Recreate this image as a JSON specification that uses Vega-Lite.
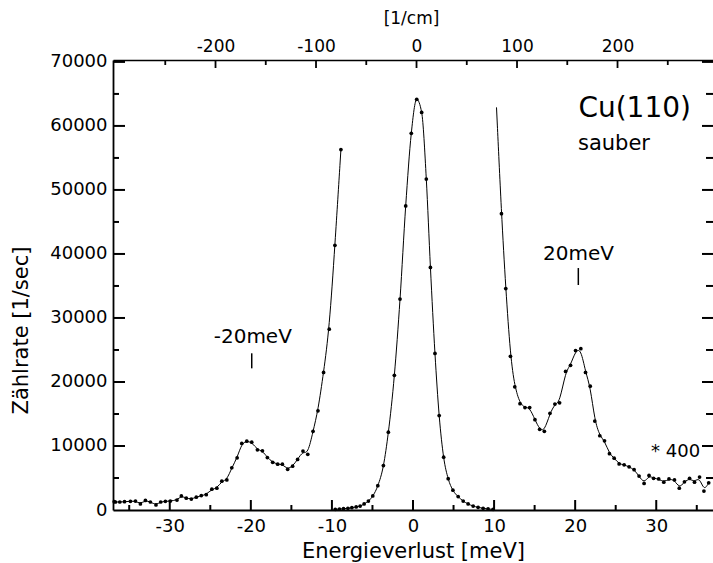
{
  "$schema": "https://vega.github.io/schema/vega-lite/v6.json",
  "width": 600,
  "height": 450,
  "autosize": {"type": "none"},
  "padding": {"left": 113, "top": 60, "right": 0, "bottom": 53},
  "background": "white",
  "config": {
    "view": {"stroke": null},
    "font": "DejaVu Sans",
    "locale": {"number": {"decimal": ".", "thousands": "", "grouping": [3], "currency": ["", ""], "minus": "-"}},
    "axis": {"grid": false, "domainColor": "black", "labelColor": "black", "titleColor": "black", "labelFont": "DejaVu Sans", "titleFont": "DejaVu Sans", "titleFontWeight": "normal"}
  },
  "datasets": {
    "curve": [
      {"seg": "L", "x": -36.85, "y": 1300},
      {"seg": "L", "x": -36.69, "y": 1250},
      {"seg": "L", "x": -36.16, "y": 1250},
      {"seg": "L", "x": -35.58, "y": 1300},
      {"seg": "L", "x": -34.85, "y": 1350},
      {"seg": "L", "x": -34.23, "y": 1400},
      {"seg": "L", "x": -33.62, "y": 950},
      {"seg": "L", "x": -33.0, "y": 1500},
      {"seg": "L", "x": -32.39, "y": 1250},
      {"seg": "L", "x": -31.7, "y": 800},
      {"seg": "L", "x": -31.12, "y": 1250},
      {"seg": "L", "x": -30.54, "y": 1350},
      {"seg": "L", "x": -29.93, "y": 1400},
      {"seg": "L", "x": -29.11, "y": 1550},
      {"seg": "L", "x": -28.57, "y": 2200},
      {"seg": "L", "x": -27.96, "y": 1850},
      {"seg": "L", "x": -27.34, "y": 1700},
      {"seg": "L", "x": -26.73, "y": 2000},
      {"seg": "L", "x": -26.11, "y": 2250},
      {"seg": "L", "x": -25.5, "y": 2400},
      {"seg": "L", "x": -24.81, "y": 3250},
      {"seg": "L", "x": -24.19, "y": 3400},
      {"seg": "L", "x": -23.58, "y": 4500},
      {"seg": "L", "x": -22.96, "y": 4700},
      {"seg": "L", "x": -22.35, "y": 6600},
      {"seg": "L", "x": -21.69, "y": 8150},
      {"seg": "L", "x": -21.12, "y": 10400},
      {"seg": "L", "x": -20.5, "y": 10750},
      {"seg": "L", "x": -19.89, "y": 10600},
      {"seg": "L", "x": -19.19, "y": 9400},
      {"seg": "L", "x": -18.57, "y": 9250},
      {"seg": "L", "x": -17.96, "y": 8200},
      {"seg": "L", "x": -17.31, "y": 7450},
      {"seg": "L", "x": -16.69, "y": 7150},
      {"seg": "L", "x": -16.11, "y": 7150},
      {"seg": "L", "x": -15.46, "y": 6350},
      {"seg": "L", "x": -14.85, "y": 6850},
      {"seg": "L", "x": -14.23, "y": 7900},
      {"seg": "L", "x": -13.57, "y": 9200},
      {"seg": "L", "x": -12.98, "y": 8700},
      {"seg": "L", "x": -12.33, "y": 12300},
      {"seg": "L", "x": -11.72, "y": 15500},
      {"seg": "L", "x": -11.03, "y": 21500},
      {"seg": "L", "x": -10.33, "y": 28250},
      {"seg": "L", "x": -9.63, "y": 41350},
      {"seg": "L", "x": -8.89, "y": 56300},
      {"seg": "C", "x": -9.59, "y": 100},
      {"seg": "C", "x": -9.07, "y": 150},
      {"seg": "C", "x": -8.57, "y": 200},
      {"seg": "C", "x": -8.03, "y": 270},
      {"seg": "C", "x": -7.54, "y": 360},
      {"seg": "C", "x": -7.01, "y": 470},
      {"seg": "C", "x": -6.52, "y": 620},
      {"seg": "C", "x": -6.03, "y": 940},
      {"seg": "C", "x": -5.5, "y": 1400},
      {"seg": "C", "x": -4.96, "y": 2200},
      {"seg": "C", "x": -4.34, "y": 3800},
      {"seg": "C", "x": -3.65, "y": 6950},
      {"seg": "C", "x": -3.04, "y": 12150},
      {"seg": "C", "x": -2.3, "y": 21050},
      {"seg": "C", "x": -1.6, "y": 32950},
      {"seg": "C", "x": -0.9, "y": 47500},
      {"seg": "C", "x": -0.21, "y": 58850},
      {"seg": "C", "x": 0.46, "y": 64150},
      {"seg": "C", "x": 1.07, "y": 62100},
      {"seg": "C", "x": 1.64, "y": 51700},
      {"seg": "C", "x": 2.15, "y": 37900},
      {"seg": "C", "x": 2.71, "y": 24450},
      {"seg": "C", "x": 3.23, "y": 14750},
      {"seg": "C", "x": 3.78, "y": 8250},
      {"seg": "C", "x": 4.34, "y": 4900},
      {"seg": "C", "x": 4.92, "y": 3100},
      {"seg": "C", "x": 5.57, "y": 2100},
      {"seg": "C", "x": 6.19, "y": 1400},
      {"seg": "C", "x": 6.8, "y": 950},
      {"seg": "C", "x": 7.42, "y": 620},
      {"seg": "C", "x": 8.03, "y": 420},
      {"seg": "C", "x": 8.65, "y": 270},
      {"seg": "C", "x": 9.26, "y": 160},
      {"seg": "C", "x": 9.88, "y": 100},
      {"seg": "R", "x": 10.3, "y": 62900, "nodot": true},
      {"seg": "R", "x": 10.91, "y": 46300},
      {"seg": "R", "x": 11.44, "y": 34600},
      {"seg": "R", "x": 12.02, "y": 24000},
      {"seg": "R", "x": 12.55, "y": 19250},
      {"seg": "R", "x": 13.2, "y": 16600},
      {"seg": "R", "x": 13.81, "y": 16000},
      {"seg": "R", "x": 14.39, "y": 16000},
      {"seg": "R", "x": 15.04, "y": 14100},
      {"seg": "R", "x": 15.62, "y": 12600},
      {"seg": "R", "x": 16.2, "y": 12300},
      {"seg": "R", "x": 16.89, "y": 15100},
      {"seg": "R", "x": 17.5, "y": 16550},
      {"seg": "R", "x": 18.08, "y": 16750},
      {"seg": "R", "x": 18.82, "y": 21650},
      {"seg": "R", "x": 19.43, "y": 22600},
      {"seg": "R", "x": 20.05, "y": 24900},
      {"seg": "R", "x": 20.7, "y": 25200},
      {"seg": "R", "x": 21.28, "y": 21500},
      {"seg": "R", "x": 21.86, "y": 19350},
      {"seg": "R", "x": 22.42, "y": 13900},
      {"seg": "R", "x": 23.04, "y": 11600},
      {"seg": "R", "x": 23.62, "y": 10800},
      {"seg": "R", "x": 24.23, "y": 8800},
      {"seg": "R", "x": 24.81, "y": 8100},
      {"seg": "R", "x": 25.42, "y": 7200},
      {"seg": "R", "x": 26.04, "y": 7050},
      {"seg": "R", "x": 26.65, "y": 6750},
      {"seg": "R", "x": 27.27, "y": 6300},
      {"seg": "R", "x": 27.88, "y": 5300},
      {"seg": "R", "x": 28.5, "y": 4150},
      {"seg": "R", "x": 29.11, "y": 5400},
      {"seg": "R", "x": 29.67, "y": 4950},
      {"seg": "R", "x": 30.3, "y": 4850},
      {"seg": "R", "x": 30.93, "y": 4350},
      {"seg": "R", "x": 31.57, "y": 4850},
      {"seg": "R", "x": 32.25, "y": 4700},
      {"seg": "R", "x": 32.84, "y": 3400},
      {"seg": "R", "x": 33.48, "y": 4400},
      {"seg": "R", "x": 34.11, "y": 4950},
      {"seg": "R", "x": 34.72, "y": 4350},
      {"seg": "R", "x": 35.34, "y": 5150},
      {"seg": "R", "x": 35.88, "y": 2950},
      {"seg": "R", "x": 36.47, "y": 4250}
    ],
    "notes": [
      {"kind": "title", "x": 27.34, "y": 61400, "text": "Cu(110)"},
      {"kind": "sub", "x": 24.79, "y": 56230, "text": "sauber"},
      {"kind": "peak", "x": 20.41, "y": 39050, "text": "20meV"},
      {"kind": "peak", "x": -19.76, "y": 26130, "text": "-20meV"},
      {"kind": "scale", "x": 32.38, "y": 8330, "text": "* 400"}
    ],
    "markers": [
      {"x": 20.39, "y": 37800, "y2": 35150},
      {"x": -19.89, "y": 24480, "y2": 22130}
    ],
    "top": [{"cm": -200}, {"cm": 200}],
    "xticks": [
      {"v": -35, "kind": "minor"}, {"v": -30, "kind": "major"}, {"v": -25, "kind": "minor"}, {"v": -20, "kind": "major"},
      {"v": -15, "kind": "minor"}, {"v": -10, "kind": "major"}, {"v": -5, "kind": "minor"}, {"v": 0, "kind": "major"},
      {"v": 5, "kind": "minor"}, {"v": 10, "kind": "major"}, {"v": 15, "kind": "minor"}, {"v": 20, "kind": "major"},
      {"v": 25, "kind": "minor"}, {"v": 30, "kind": "major"}, {"v": 35, "kind": "minor"}
    ],
    "yticks": [
      {"v": 5000, "kind": "minor"}, {"v": 10000, "kind": "major"}, {"v": 15000, "kind": "minor"}, {"v": 20000, "kind": "major"},
      {"v": 25000, "kind": "minor"}, {"v": 30000, "kind": "major"}, {"v": 35000, "kind": "minor"}, {"v": 40000, "kind": "major"},
      {"v": 45000, "kind": "minor"}, {"v": 50000, "kind": "major"}, {"v": 55000, "kind": "minor"}, {"v": 60000, "kind": "major"},
      {"v": 65000, "kind": "minor"}, {"v": 70000, "kind": "major"}
    ],
    "cmticks": [
      {"v": -250, "kind": "minor"}, {"v": -200, "kind": "major"}, {"v": -150, "kind": "minor"}, {"v": -100, "kind": "major"},
      {"v": -50, "kind": "minor"}, {"v": 0, "kind": "major"}, {"v": 50, "kind": "minor"}, {"v": 100, "kind": "major"},
      {"v": 150, "kind": "minor"}, {"v": 200, "kind": "major"}, {"v": 250, "kind": "minor"}
    ]
  },
  "resolve": {"scale": {"x": "independent", "y": "independent"}},
  "layer": [
    {
      "data": {"name": "curve"},
      "transform": [{"filter": "datum.seg !== 'C'"}],
      "mark": {"type": "line", "interpolate": "basis", "color": "black", "strokeWidth": 1},
      "encoding": {
        "x": {"field": "x", "type": "quantitative", "scale": {"domain": [-37, 37], "nice": false, "zero": false},
          "axis": {"orient": "bottom", "values": [-30, -20, -10, 0, 10, 20, 30], "format": "d", "ticks": false, "domainWidth": 1.8, "labelPadding": 7, "labelFontSize": 18, "title": "Energieverlust [meV]", "titleFontSize": 21, "titleX": 300, "titleY": 47, "titleAlign": "center", "titleBaseline": "alphabetic"}},
        "y": {"field": "y", "type": "quantitative", "scale": {"domain": [0, 70300], "nice": false, "zero": false},
          "axis": {"orient": "left", "values": [0, 10000, 20000, 30000, 40000, 50000, 60000, 70000], "format": "d", "ticks": false, "domainWidth": 1.8, "labelPadding": 6, "labelFontSize": 18, "title": "Zählrate [1/sec]", "titleFontSize": 21, "titleAngle": -90, "titleX": -92, "titleY": 270, "titleAlign": "center", "titleBaseline": "middle"}},
        "detail": {"field": "seg"}
      }
    },
    {
      "data": {"name": "top"},
      "mark": {"type": "point", "opacity": 0},
      "encoding": {
        "x": {"field": "cm", "type": "quantitative", "scale": {"domain": [-302, 295], "nice": false, "zero": false},
          "axis": {"orient": "top", "values": [-200, -100, 0, 100, 200], "format": "d", "ticks": false, "domainWidth": 1.3, "labelPadding": 5, "labelFontSize": 17, "title": "[1/cm]", "titleFontSize": 17, "titleX": 298, "titleY": -42, "titleAlign": "center", "titleBaseline": "middle"}}
      }
    },
    {
      "data": {"name": "xticks"},
      "transform": [{"filter": "datum.kind === 'major'"}],
      "mark": {"type": "rule", "color": "black", "strokeWidth": 2},
      "encoding": {
        "x": {"field": "v", "type": "quantitative", "scale": {"domain": [-37, 37], "nice": false, "zero": false}, "axis": null},
        "y": {"datum": 0, "type": "quantitative", "scale": {"domain": [0, 70300], "nice": false, "zero": false}, "axis": null},
        "y2": {"datum": 1560}
      }
    },
    {
      "data": {"name": "xticks"},
      "transform": [{"filter": "datum.kind === 'minor'"}],
      "mark": {"type": "rule", "color": "black", "strokeWidth": 2},
      "encoding": {
        "x": {"field": "v", "type": "quantitative", "scale": {"domain": [-37, 37], "nice": false, "zero": false}, "axis": null},
        "y": {"datum": 0, "type": "quantitative", "scale": {"domain": [0, 70300], "nice": false, "zero": false}, "axis": null},
        "y2": {"datum": 780}
      }
    },
    {
      "data": {"name": "yticks"},
      "transform": [{"filter": "datum.kind === 'major'"}],
      "mark": {"type": "rule", "color": "black", "strokeWidth": 2},
      "encoding": {
        "y": {"field": "v", "type": "quantitative", "scale": {"domain": [0, 70300], "nice": false, "zero": false}, "axis": null},
        "x": {"datum": -37, "type": "quantitative", "scale": {"domain": [-37, 37], "nice": false, "zero": false}, "axis": null},
        "x2": {"datum": -35.52}
      }
    },
    {
      "data": {"name": "yticks"},
      "transform": [{"filter": "datum.kind === 'minor'"}],
      "mark": {"type": "rule", "color": "black", "strokeWidth": 2},
      "encoding": {
        "y": {"field": "v", "type": "quantitative", "scale": {"domain": [0, 70300], "nice": false, "zero": false}, "axis": null},
        "x": {"datum": -37, "type": "quantitative", "scale": {"domain": [-37, 37], "nice": false, "zero": false}, "axis": null},
        "x2": {"datum": -36.26}
      }
    },
    {
      "data": {"name": "yticks"},
      "transform": [{"filter": "datum.kind === 'major'"}],
      "mark": {"type": "rule", "color": "black", "strokeWidth": 2},
      "encoding": {
        "y": {"field": "v", "type": "quantitative", "scale": {"domain": [0, 70300], "nice": false, "zero": false}, "axis": null},
        "x": {"datum": 37, "type": "quantitative", "scale": {"domain": [-37, 37], "nice": false, "zero": false}, "axis": null},
        "x2": {"datum": 35.64}
      }
    },
    {
      "data": {"name": "yticks"},
      "transform": [{"filter": "datum.kind === 'minor'"}],
      "mark": {"type": "rule", "color": "black", "strokeWidth": 2},
      "encoding": {
        "y": {"field": "v", "type": "quantitative", "scale": {"domain": [0, 70300], "nice": false, "zero": false}, "axis": null},
        "x": {"datum": 37, "type": "quantitative", "scale": {"domain": [-37, 37], "nice": false, "zero": false}, "axis": null},
        "x2": {"datum": 36.14}
      }
    },
    {
      "data": {"name": "cmticks"},
      "transform": [{"filter": "datum.kind === 'major'"}],
      "mark": {"type": "rule", "color": "black", "strokeWidth": 1.8},
      "encoding": {
        "x": {"field": "v", "type": "quantitative", "scale": {"domain": [-302, 295], "nice": false, "zero": false}, "axis": null},
        "y": {"datum": 70300, "type": "quantitative", "scale": {"domain": [0, 70300], "nice": false, "zero": false}, "axis": null},
        "y2": {"datum": 69050}
      }
    },
    {
      "data": {"name": "cmticks"},
      "transform": [{"filter": "datum.kind === 'minor'"}],
      "mark": {"type": "rule", "color": "black", "strokeWidth": 1.8},
      "encoding": {
        "x": {"field": "v", "type": "quantitative", "scale": {"domain": [-302, 295], "nice": false, "zero": false}, "axis": null},
        "y": {"datum": 70300, "type": "quantitative", "scale": {"domain": [0, 70300], "nice": false, "zero": false}, "axis": null},
        "y2": {"datum": 69520}
      }
    },
    {
      "data": {"name": "curve"},
      "transform": [{"filter": "datum.seg === 'C'"}],
      "mark": {"type": "line", "interpolate": "monotone", "color": "black", "strokeWidth": 1},
      "encoding": {
        "x": {"field": "x", "type": "quantitative", "scale": {"domain": [-37, 37], "nice": false, "zero": false}, "axis": null},
        "y": {"field": "y", "type": "quantitative", "scale": {"domain": [0, 70300], "nice": false, "zero": false}, "axis": null}
      }
    },
    {
      "data": {"name": "curve"},
      "transform": [{"filter": "!datum.nodot"}],
      "mark": {"type": "point", "filled": true, "color": "black", "size": 14, "opacity": 1},
      "encoding": {
        "x": {"field": "x", "type": "quantitative", "scale": {"domain": [-37, 37], "nice": false, "zero": false}, "axis": null},
        "y": {"field": "y", "type": "quantitative", "scale": {"domain": [0, 70300], "nice": false, "zero": false}, "axis": null}
      }
    },
    {
      "data": {"name": "notes"},
      "transform": [{"filter": "datum.kind === 'title'"}],
      "mark": {"type": "text", "align": "center", "baseline": "alphabetic", "font": "DejaVu Sans", "fontSize": 28, "color": "black"},
      "encoding": {
        "x": {"field": "x", "type": "quantitative", "scale": {"domain": [-37, 37], "nice": false, "zero": false}, "axis": null},
        "y": {"field": "y", "type": "quantitative", "scale": {"domain": [0, 70300], "nice": false, "zero": false}, "axis": null},
        "text": {"field": "text"}
      }
    },
    {
      "data": {"name": "notes"},
      "transform": [{"filter": "datum.kind === 'sub'"}],
      "mark": {"type": "text", "align": "center", "baseline": "alphabetic", "font": "DejaVu Sans", "fontSize": 21, "color": "black"},
      "encoding": {
        "x": {"field": "x", "type": "quantitative", "scale": {"domain": [-37, 37], "nice": false, "zero": false}, "axis": null},
        "y": {"field": "y", "type": "quantitative", "scale": {"domain": [0, 70300], "nice": false, "zero": false}, "axis": null},
        "text": {"field": "text"}
      }
    },
    {
      "data": {"name": "notes"},
      "transform": [{"filter": "datum.kind === 'peak'"}],
      "mark": {"type": "text", "align": "center", "baseline": "alphabetic", "font": "DejaVu Sans", "fontSize": 20, "color": "black"},
      "encoding": {
        "x": {"field": "x", "type": "quantitative", "scale": {"domain": [-37, 37], "nice": false, "zero": false}, "axis": null},
        "y": {"field": "y", "type": "quantitative", "scale": {"domain": [0, 70300], "nice": false, "zero": false}, "axis": null},
        "text": {"field": "text"}
      }
    },
    {
      "data": {"name": "notes"},
      "transform": [{"filter": "datum.kind === 'scale'"}],
      "mark": {"type": "text", "align": "center", "baseline": "alphabetic", "font": "DejaVu Sans", "fontSize": 18, "color": "black"},
      "encoding": {
        "x": {"field": "x", "type": "quantitative", "scale": {"domain": [-37, 37], "nice": false, "zero": false}, "axis": null},
        "y": {"field": "y", "type": "quantitative", "scale": {"domain": [0, 70300], "nice": false, "zero": false}, "axis": null},
        "text": {"field": "text"}
      }
    },
    {
      "data": {"name": "markers"},
      "mark": {"type": "rule", "color": "black", "strokeWidth": 1.5},
      "encoding": {
        "x": {"field": "x", "type": "quantitative", "scale": {"domain": [-37, 37], "nice": false, "zero": false}, "axis": null},
        "y": {"field": "y", "type": "quantitative", "scale": {"domain": [0, 70300], "nice": false, "zero": false}, "axis": null},
        "y2": {"field": "y2"}
      }
    }
  ]
}
